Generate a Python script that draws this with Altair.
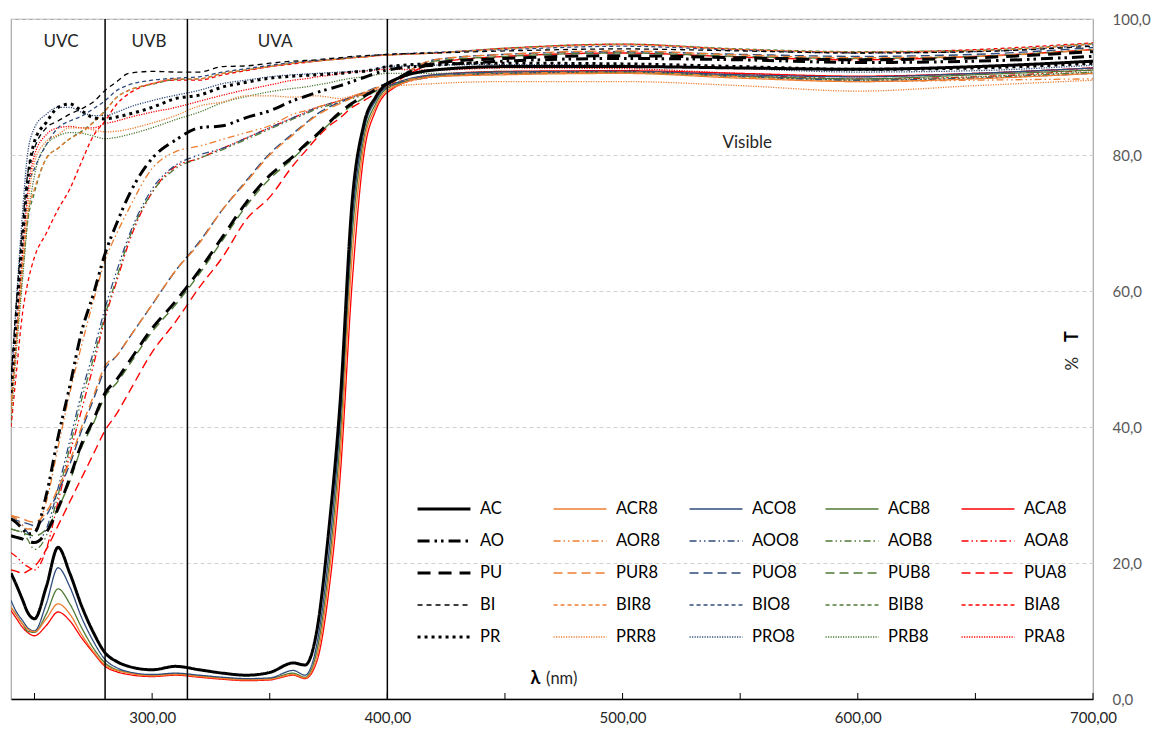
import altair as alt
import pandas as pd

# wavelength grid (nm)
WL = [240, 242, 245, 247, 250, 255, 260, 265, 270, 275, 280, 285, 290, 300, 310,
      320, 330, 340, 350, 360, 365, 370, 375, 380, 385, 390, 395, 400, 420, 450,
      500, 550, 600, 650, 700]

AC   = [18.5, 17, 14.5, 12.8, 11.8, 16.5, 22.3, 18.5, 13.7, 9.8, 6.8, 5.5, 4.8, 4.3, 4.8, 4.3, 3.8, 3.5, 3.9, 5.3, 5.0, 10, 24.5, 44, 73, 84.5, 88.5, 90.5, 92.5, 93, 93, 92.8, 92.6, 93, 93.8]
ACR8 = [13.5, 12.5, 11, 10.3, 9.9, 11.8, 14, 12.5, 9.5, 7, 5, 4.2, 3.8, 3.4, 3.6, 3.3, 3, 2.8, 2.9, 3.6, 3.1, 6.2, 17.5, 36, 65, 81.5, 87, 89.5, 91.5, 91.8, 92, 91.3, 90.8, 91.2, 92]
ACO8 = [14.5, 13, 11.5, 10.5, 10, 14, 19.3, 16.5, 12, 8.5, 5.8, 4.6, 4, 3.6, 3.8, 3.5, 3.2, 3, 3.1, 4.2, 3.5, 8, 21, 41, 70, 83.5, 88, 90, 91.8, 92.2, 92.3, 91.8, 91.5, 92, 92.8]
ACB8 = [13.5, 12.5, 11, 10, 9.8, 12.5, 16.2, 14, 10.5, 7.5, 5.3, 4.3, 3.9, 3.5, 3.7, 3.4, 3.1, 2.9, 3, 3.8, 3.2, 7, 19, 38.5, 68, 82.5, 87.5, 89.8, 91.6, 92, 92.1, 91.6, 91.2, 91.8, 92.5]
ACA8 = [13, 12, 10.5, 9.8, 9.3, 10.8, 12.8, 11.5, 9, 6.8, 4.8, 4, 3.6, 3.3, 3.5, 3.2, 2.9, 2.7, 2.8, 3.5, 3, 5.5, 15.5, 33, 61, 80, 86.5, 89.2, 91.8, 92.3, 92.4, 92, 91.6, 92, 92.8]

AO   = [26.5, 26, 25, 24.3, 24.5, 30, 38.5, 46, 54, 59.5, 65.5, 70, 74, 79.5, 82.2, 84, 84.3, 85.5, 86.5, 88, 88.6, 89.2, 89.7, 90.2, 90.8, 91.4, 92, 92.5, 93.2, 93.8, 94.2, 94, 93.6, 93.8, 94.5]
AOR8 = [27, 26.5, 25.5, 25, 25, 29, 37, 45, 52, 58.5, 64.5, 68.5, 72, 78, 80.5, 81.3, 82.3, 83.3, 84.3, 86, 86.5, 87, 87.5, 88, 88.6, 89.2, 89.8, 90.5, 91.5, 92, 92.2, 91.5, 90.8, 91, 91.2]
AOO8 = [27, 26.5, 25.5, 24.5, 23, 25, 31, 38, 45, 51, 57.5, 63, 68, 75, 78.5, 80, 81, 82.5, 84, 85.5, 86.2, 87, 87.5, 88, 88.5, 89, 89.5, 90.2, 91.5, 92, 92.3, 91.6, 91, 91.3, 92]
AOB8 = [25, 24.8, 24.5, 23.5, 22, 24, 30, 37, 44, 50, 56.5, 62, 67.5, 74.5, 78, 79.5, 80.8, 82.3, 83.8, 85.3, 86, 86.8, 87.3, 87.8, 88.3, 88.8, 89.4, 90, 91.5, 92, 92.2, 91.5, 91, 91.3, 92.2]
AOA8 = [21.5, 21, 20, 19.5, 19, 22, 29, 36, 42.5, 49, 56, 61.5, 67, 74.5, 78.3, 79.5, 81, 82.5, 84, 85.5, 86.2, 87, 87.5, 88, 88.5, 89, 89.5, 90, 91.5, 92, 92.2, 91.8, 91.2, 91.5, 92.5]

PU   = [24, 23.8, 23.5, 23.2, 23, 24.5, 28, 32.5, 37.5, 41, 45, 47, 49.5, 54.5, 58.5, 63, 68, 73, 77, 79.8, 81.5, 83, 84.7, 86.3, 87.6, 88.6, 89.6, 90.5, 93.5, 94.2, 94.6, 94.3, 94, 94.3, 95.2]
PUR8 = [27, 26.8, 26.5, 26.2, 26, 27.5, 31, 35, 40, 44.5, 49, 50.5, 53, 58, 63, 67, 72, 76, 80, 83, 84.5, 85.8, 86.8, 87.6, 88.4, 89, 89.8, 90.5, 94, 94.8, 95.3, 94.7, 94.3, 94.5, 95.5]
PUO8 = [26.5, 26.3, 26, 25.8, 25.5, 27, 30.5, 34.5, 39.5, 44, 48.5, 50.5, 53, 58, 63, 67.2, 72, 76.2, 80.2, 83.2, 84.6, 86, 87, 87.8, 88.5, 89.2, 89.9, 90.6, 94, 94.8, 95.2, 94.8, 94.5, 94.8, 95.8]
PUB8 = [25, 24.8, 24.5, 24.2, 24, 25, 28, 32, 37, 40.5, 44.5, 46.5, 49, 54, 58, 62.5, 67.5, 72.5, 76.5, 79.5, 81.2, 82.8, 84.5, 86, 87.3, 88.4, 89.4, 90.3, 93.8, 94.5, 95, 94.5, 94.2, 94.5, 95.5]
PUA8 = [19, 18.8, 18.5, 18.8, 19.5, 22, 25.5, 29, 32.5, 36, 39.5, 42, 45, 51, 55.5, 60.5, 65, 70.5, 73.8, 78.5, 80.5, 82.5, 84.2, 85.5, 87, 88, 89, 90, 93.5, 94.5, 95, 94.4, 94, 94.5, 95.5]

BI   = [47, 57, 70, 77, 81, 84, 85, 86, 86.8, 87.8, 89.5, 90.8, 92, 92.3, 92.2, 92.2, 93, 93.1, 93.5, 93.8, 93.9, 94, 94.2, 94.3, 94.5, 94.6, 94.7, 94.8, 95, 95.3, 95.6, 95.3, 95, 95.2, 96]
BIR8 = [44, 52, 64, 71, 75, 79.5, 81, 82.4, 83.3, 84.8, 86.5, 88.5, 89.5, 90.5, 91.2, 91.2, 92, 92.5, 93, 93.5, 93.7, 93.8, 94, 94.1, 94.3, 94.4, 94.6, 94.7, 95, 95.6, 96.2, 95.5, 95.1, 95.3, 96.3]
BIO8 = [46, 55, 68, 75, 78, 81.5, 84, 85, 85.7, 86.8, 88, 89.5, 90.3, 91, 91.3, 91.5, 92.2, 92.7, 93.2, 93.6, 93.8, 93.9, 94.1, 94.2, 94.4, 94.5, 94.7, 94.8, 95.1, 95.5, 96, 95.4, 95, 95.2, 96.2]
BIB8 = [43, 51, 63, 70, 74.5, 79.5, 81, 82.4, 83.5, 84.8, 86.5, 88.5, 89.5, 90.4, 91.1, 91.2, 92, 92.5, 93, 93.5, 93.7, 93.8, 94, 94.1, 94.3, 94.4, 94.6, 94.7, 95, 95.7, 96.3, 95.6, 95.2, 95.4, 96.4]
BIA8 = [40, 47, 57, 61, 65, 68.5, 72, 75, 79, 82.8, 85, 87.5, 89, 90.5, 91, 91, 91.8, 92.4, 93, 93.4, 93.6, 93.8, 94, 94.1, 94.3, 94.4, 94.6, 94.7, 95, 95.7, 96.3, 95.5, 95.1, 95.5, 96.5]

PR   = [45, 55, 68, 76, 82, 84.8, 87, 87.5, 86.5, 85.5, 85.3, 85.6, 86, 87, 88.3, 88.8, 90, 90.7, 91.3, 91.6, 91.7, 91.8, 91.9, 92, 92.2, 92.3, 92.6, 93, 93.4, 93.5, 93.4, 93, 92.6, 92.8, 93.5]
PRR8 = [42, 51, 64, 72, 79, 82, 83, 84, 84, 83.7, 83.4, 83.5, 83.8, 84.7, 85.8, 87.2, 87.8, 88.7, 88.7, 88.5, 88.6, 88.7, 88.5, 88.3, 88.7, 89.2, 89.6, 90, 90.5, 90.8, 90.8, 90.2, 89.4, 90.2, 91]
PRO8 = [46, 57, 72, 80, 84, 86, 87, 87, 86.3, 85.8, 85.8, 86.3, 87, 88, 88.8, 89.5, 90.5, 91, 91.5, 91.8, 91.9, 92, 92.1, 92.2, 92.3, 92.4, 92.6, 93, 93.2, 93.3, 93.2, 92.7, 92.2, 92.4, 93.2]
PRB8 = [40.5, 50, 62, 70, 77, 81.5, 82.8, 83.3, 83.2, 82.8, 82.4, 82.6, 83, 84, 85.2, 86.3, 87.7, 88.6, 89.3, 89.8, 90, 90.3, 90.6, 91, 91.3, 91.5, 91.8, 92, 92, 92.3, 92.2, 91.6, 91, 91.5, 92.2]
PRA8 = [42, 52, 66, 74, 80, 83, 84, 84.2, 84, 84, 84.6, 85, 85.5, 86.3, 87, 87.9, 88.8, 89.6, 90.3, 91, 91.2, 91.5, 91.7, 92, 92.2, 92.3, 92.5, 92.6, 92.5, 92.8, 92.7, 92, 91.5, 92, 92.8]

# legend grid: columns = material (base, R8, O8, B8, A8), rows = family
FAMILIES = ["AC", "AO", "PU", "BI", "PR"]
SUFFIXES = ["", "R8", "O8", "B8", "A8"]
SERIES = {
    "AC": AC, "ACR8": ACR8, "ACO8": ACO8, "ACB8": ACB8, "ACA8": ACA8,
    "AO": AO, "AOR8": AOR8, "AOO8": AOO8, "AOB8": AOB8, "AOA8": AOA8,
    "PU": PU, "PUR8": PUR8, "PUO8": PUO8, "PUB8": PUB8, "PUA8": PUA8,
    "BI": BI, "BIR8": BIR8, "BIO8": BIO8, "BIB8": BIB8, "BIA8": BIA8,
    "PR": PR, "PRR8": PRR8, "PRO8": PRO8, "PRB8": PRB8, "PRA8": PRA8,
}

COL_COLORS = ["#000000", "#ED7D31", "#2F4B7C", "#4F7A35", "#FF0000"]
ROW_DASH_BLACK = [[1, 0], [12, 5, 2.5, 4, 2.5, 5], [13, 8], [5, 4], [3, 4]]
ROW_DASH_COL = [[1, 0], [7, 3, 1.5, 3, 1.5, 3], [9, 5], [4, 3], [1.2, 1.3]]
ROW_W_BLACK = [3, 3, 3, 1.3, 3]
ROW_W_COL = [1.3, 1.3, 1.4, 1.3, 1.3]

# legend fills column by column -> base column first
ORDER, colors, dashes, widths = [], [], [], []
for c, suf in enumerate(SUFFIXES):
    for r, fam in enumerate(FAMILIES):
        ORDER.append(fam + suf)
        colors.append(COL_COLORS[c])
        dashes.append(ROW_DASH_BLACK[r] if c == 0 else ROW_DASH_COL[r])
        widths.append(ROW_W_BLACK[r] if c == 0 else ROW_W_COL[r])

rows = []
for name in reversed(ORDER):
    for w, t in zip(WL, SERIES[name]):
        rows.append({"wl": w, "T": t, "series": name})
df = pd.DataFrame(rows)

FONT = "Lato"
W, H = 1082, 680

legend = alt.Legend(
    title=None, orient="none", legendX=405, legendY=481, columns=5,
    symbolType="stroke", symbolSize=2800, gridAlign="all", clipHeight=18,
    columnPadding=25, rowPadding=14, labelOffset=8,
    labelFont=FONT, labelFontSize=16.5, labelColor="#000000", labelLimit=200,
    padding=0, symbolLimit=0,
)

xscale = alt.Scale(domain=[240, 700], nice=False, zero=False)
yscale = alt.Scale(domain=[0, 100], nice=False)

X = alt.X("wl:Q", scale=xscale,
          axis=alt.Axis(title=None, values=[300, 400, 500, 600, 700], ticks=False,
                        labelExpr="replace(format(datum.value, '.2f'), '.', ',')",
                        labelFont=FONT, labelFontSize=15, labelColor="#262626",
                        labelPadding=11, labelFlush=False, domainColor="#000000",
                        domainWidth=1.5, grid=False))
Y = alt.Y("T:Q", scale=yscale,
          axis=alt.Axis(title=None, orient="right", values=[0, 20, 40, 60, 80, 100],
                        labelExpr="replace(format(datum.value, '.1f'), '.', ',')",
                        labelFont=FONT, labelFontSize=15, labelColor="#595959",
                        labelPadding=19, labelAlign="left", labelFlush=False,
                        domain=False, ticks=False,
                        grid=True, gridColor="#D0D0D0", gridDash=[4, 3], gridWidth=1))

lines = alt.Chart(df).mark_line(interpolate="monotone", strokeCap="butt", clip=True).encode(
    x=X, y=Y,
    color=alt.Color("series:N", scale=alt.Scale(domain=ORDER, range=colors), legend=legend),
    strokeDash=alt.StrokeDash("series:N", scale=alt.Scale(domain=ORDER, range=dashes), legend=legend),
    strokeWidth=alt.StrokeWidth("series:N", scale=alt.Scale(type="ordinal", domain=ORDER, range=widths), legend=legend),
)

# UV band boundaries
BOUNDS = [280, 315, 400]
bounds = alt.Chart(pd.DataFrame({"wl": BOUNDS})).mark_rule(color="#000000", strokeWidth=1.5).encode(x=X)

# inward minor/major ticks on x axis
TICKS = [250, 300, 350, 400, 450, 500, 550, 600, 650, 700]
ticks = alt.Chart(pd.DataFrame({"wl": TICKS})).mark_rule(color="#000000", strokeWidth=1).encode(
    x=X, y=alt.value(H - 6), y2=alt.value(H)
)

# region labels
REG_TEXT = ["UVC", "UVB", "UVA", "Visible"]
REG_WL = [261.3, 298.7, 352.3, 553]
REG_T = [96.6, 96.6, 96.6, 81.8]
regions = alt.Chart(pd.DataFrame({"wl": REG_WL, "T": REG_T, "txt": REG_TEXT})).mark_text(
    font=FONT, fontSize=17, color="#262626", align="center", baseline="middle"
).encode(x=X, y=Y, text="txt:N")

# axis title texts placed inside the plot
lam = alt.Chart(pd.DataFrame({"wl": [463], "T": [3.0], "txt": ["λ"]})).mark_text(
    font=FONT, fontSize=18, fontWeight="bold", color="#000000", align="center", baseline="middle"
).encode(x=X, y=Y, text="txt:N")
nm = alt.Chart(pd.DataFrame({"wl": [467.5], "T": [3.0], "txt": ["(nm)"]})).mark_text(
    font=FONT, fontSize=16.5, color="#262626", align="left", baseline="middle"
).encode(x=X, y=Y, text="txt:N")
tT = alt.Chart(pd.DataFrame({"wl": [691.5], "T": [53.3], "txt": ["T"]})).mark_text(
    font=FONT, fontSize=18, fontWeight="bold", color="#000000", align="center", baseline="middle", angle=270
).encode(x=X, y=Y, text="txt:N")
tP = alt.Chart(pd.DataFrame({"wl": [691.5], "T": [49.3], "txt": ["%"]})).mark_text(
    font=FONT, fontSize=17, color="#262626", align="center", baseline="middle", angle=270
).encode(x=X, y=Y, text="txt:N")

chart = alt.layer(lines, bounds, ticks, regions, lam, nm, tT, tP).properties(
    width=W, height=H, padding={"left": 11, "top": 12, "right": 5, "bottom": 5},
    background="#FFFFFF"
).configure_view(stroke="#A6A6A6", strokeWidth=1.2)

chart.save("out.html", embed_options={"renderer": "svg", "actions": False})
